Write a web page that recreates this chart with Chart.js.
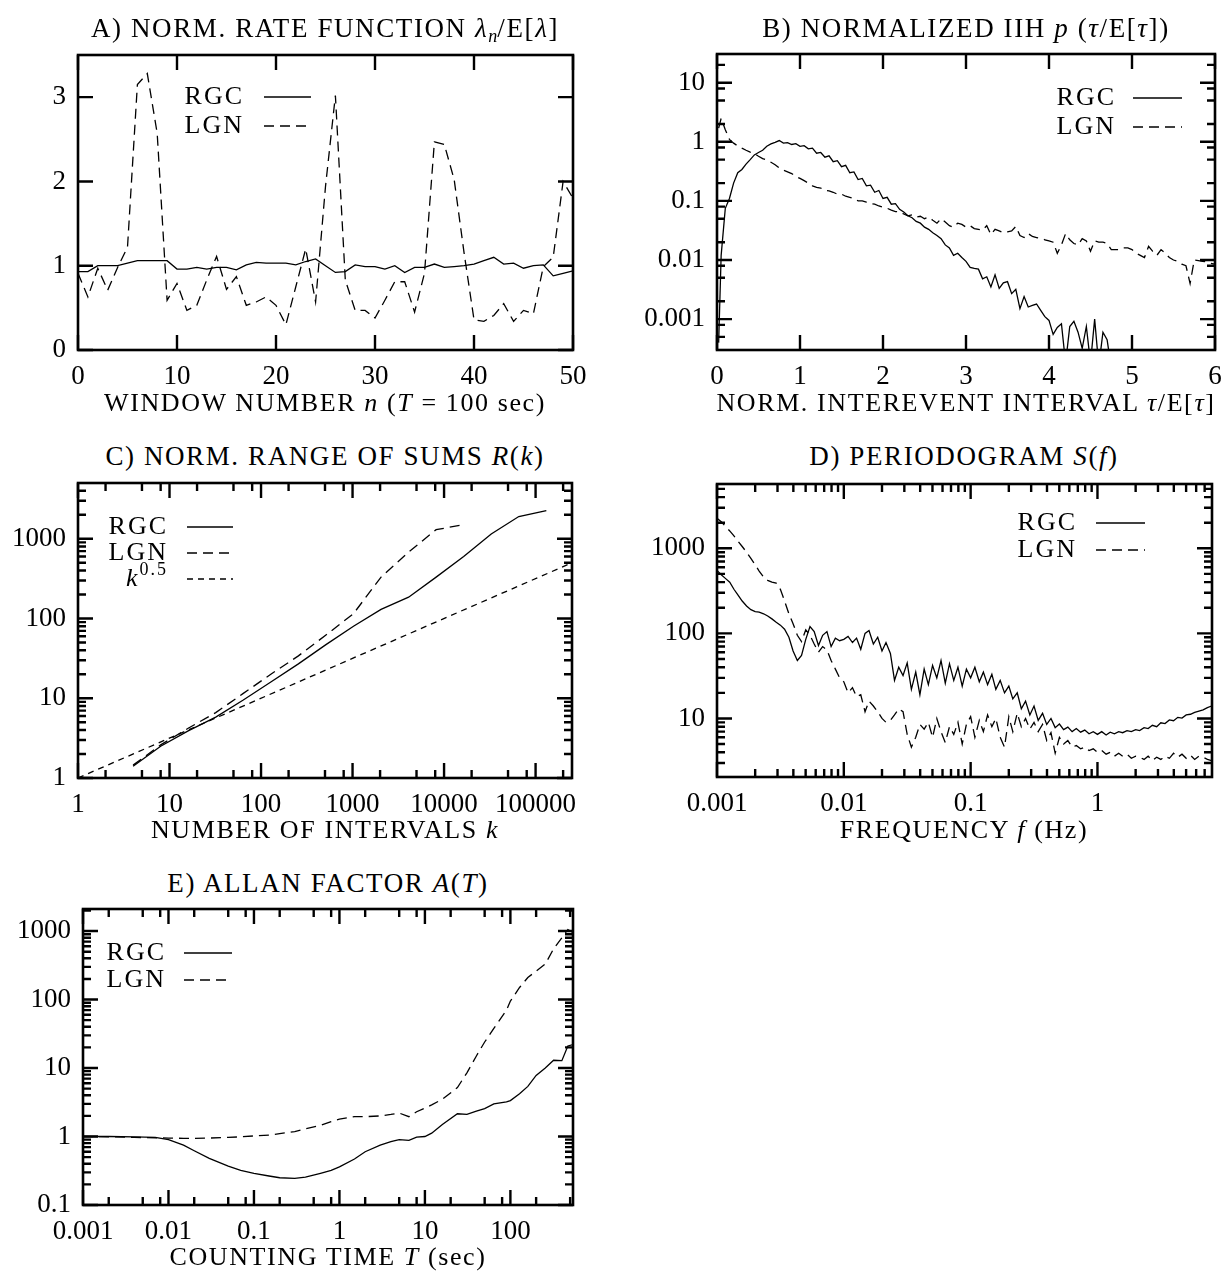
<!DOCTYPE html>
<html>
<head>
<meta charset="utf-8">
<script src="https://cdn.jsdelivr.net/npm/chart.js@4.4.1/dist/chart.umd.min.js"></script>
<style>
  body { margin: 0; background: #fff; }
  #page { position: relative; width: 1225px; height: 1274px; overflow: hidden; background: #fff;
          font-family: "Liberation Serif", serif; color: #000; }
  #page canvas { position: absolute; }
  .cap { position: absolute; font-size: 26px; letter-spacing: 1.6px; white-space: nowrap;
         transform: translate(-50%, -50%); line-height: 30px; }
  .cap.title { font-size: 27px; }
  .cap sub { font-size: 18px; vertical-align: -5px; line-height: 0; letter-spacing: 0; }
</style>
</head>
<body>
<div id="page">
  <canvas id="cA" width="610" height="345" style="left:0;top:45px"></canvas>
  <canvas id="cB" width="613" height="345" style="left:612px;top:45px"></canvas>
  <canvas id="cC" width="610" height="345" style="left:0;top:473px"></canvas>
  <canvas id="cD" width="613" height="345" style="left:612px;top:473px"></canvas>
  <canvas id="cE" width="610" height="345" style="left:0;top:899px"></canvas>

  <div class="cap title" style="left:325px;top:28px">A) NORM. RATE FUNCTION <i>λ<sub>n</sub></i>/E[<i>λ</i>]</div>
  <div class="cap title" style="left:966px;top:28px">B) NORMALIZED IIH <i>p</i> (<i>τ</i>/E[<i>τ</i>])</div>
  <div class="cap title" style="left:325px;top:456px">C) NORM. RANGE OF SUMS <i>R</i>(<i>k</i>)</div>
  <div class="cap title" style="left:964px;top:456px">D) PERIODOGRAM <i>S</i>(<i>f</i>)</div>
  <div class="cap title" style="left:328px;top:883px">E) ALLAN FACTOR <i>A</i>(<i>T</i>)</div>

  <div class="cap" style="left:325px;top:403px">WINDOW NUMBER <i>n</i> (<i>T</i> = 100 sec)</div>
  <div class="cap" style="left:966px;top:403px">NORM. INTEREVENT INTERVAL <i>τ</i>/E[<i>τ</i>]</div>
  <div class="cap" style="left:325px;top:830px">NUMBER OF INTERVALS <i>k</i></div>
  <div class="cap" style="left:964px;top:830px">FREQUENCY <i>f</i> (Hz)</div>
  <div class="cap" style="left:328px;top:1257px">COUNTING TIME <i>T</i> (sec)</div>
</div>

<script>
// A) rate per 100 s window, normalized by the mean rate
const aWindow = [0, 1, 2, 3, 4, 5, 6, 7, 8, 9, 10, 11, 12, 13, 14, 15, 16, 17, 18, 19,
  20, 21, 22, 23, 24, 25, 26, 27, 28, 29, 30, 31, 32, 33, 34, 35, 36, 37, 38, 39,
  40, 41, 42, 43, 44, 45, 46, 47, 48, 49, 50];
const aRgc = [0.93, 0.93, 1.0, 1.0, 1.0, 1.03, 1.06, 1.06, 1.06, 1.06,
  0.96, 0.96, 0.98, 0.96, 0.98, 0.98, 0.95, 1.01, 1.04, 1.03,
  1.03, 1.03, 1.01, 1.05, 1.08, 1.0, 0.92, 0.93, 1.01, 0.99,
  0.99, 0.96, 1.0, 0.92, 0.98, 0.98, 1.02, 0.98, 0.99, 1.0,
  1.02, 1.06, 1.1, 1.02, 1.03, 0.97, 1.0, 1.01, 0.88, 0.91, 0.94];
const aLgn = [0.91, 0.63, 0.97, 0.71, 0.98, 1.22, 3.15, 3.28, 2.57, 0.59,
  0.79, 0.47, 0.53, 0.83, 1.11, 0.72, 0.87, 0.53, 0.57, 0.63,
  0.53, 0.3, 0.75, 1.2, 0.57, 1.94, 3.02, 0.83, 0.47, 0.47,
  0.38, 0.59, 0.81, 0.81, 0.45, 0.91, 2.47, 2.44, 2.02, 1.15,
  0.36, 0.34, 0.41, 0.55, 0.34, 0.47, 0.43, 0.99, 1.1, 2.0, 1.8];
const aXTicks = [0, 10, 20, 30, 40, 50];
const aXLabels = ["0", "10", "20", "30", "40", "50"];
const aYTicks = [0, 1, 2, 3];
const aYLabels = ["0", "1", "2", "3"];

// B) interevent-interval histogram
const bTau = [0.02,
  0.05, 0.1, 0.15, 0.2, 0.25, 0.3, 0.35, 0.4, 0.45, 0.5,
  0.55, 0.6, 0.65, 0.7, 0.75, 0.8, 0.85, 0.9, 0.95, 1.0,
  1.05, 1.1, 1.15, 1.2, 1.25, 1.3, 1.35, 1.4, 1.45, 1.5,
  1.55, 1.6, 1.65, 1.7, 1.75, 1.8, 1.85, 1.9, 1.95, 2.0,
  2.05, 2.1, 2.15, 2.2, 2.25, 2.3, 2.35, 2.4, 2.45, 2.5,
  2.55, 2.6, 2.65, 2.7, 2.75, 2.8, 2.85, 2.9, 2.95, 3.0,
  3.05, 3.1, 3.15, 3.2, 3.25, 3.3, 3.35, 3.4, 3.45, 3.5,
  3.55, 3.6, 3.65, 3.7, 3.75, 3.8, 3.85, 3.9, 3.95, 4.0,
  4.05, 4.1, 4.15, 4.2, 4.25, 4.3, 4.35, 4.4, 4.45, 4.5,
  4.55, 4.6, 4.65, 4.7, 4.75, 4.8, 4.85, 4.9, 4.95, 5.0,
  5.05, 5.1, 5.15, 5.2, 5.25, 5.3, 5.35, 5.4, 5.45, 5.5,
  5.55, 5.6, 5.65, 5.7, 5.75, 5.8, 5.85, 5.9, 5.95, 6.0];
const bRgc = [0.0004,
  0.012, 0.075, 0.11, 0.2, 0.3, 0.34, 0.42, 0.5, 0.6, 0.66,
  0.72, 0.84, 0.92, 0.98, 1.05, 0.95, 0.97, 0.9, 0.93, 0.84,
  0.86, 0.76, 0.78, 0.64, 0.66, 0.55, 0.58, 0.46, 0.48, 0.38,
  0.40, 0.3, 0.31, 0.23, 0.24, 0.18, 0.185, 0.14, 0.15, 0.11,
  0.115, 0.088, 0.09, 0.072, 0.065, 0.056, 0.052, 0.045, 0.042, 0.036,
  0.033, 0.029, 0.026, 0.023, 0.018, 0.016, 0.012, 0.013, 0.011, 0.0095,
  0.0075, 0.0072, 0.007, 0.0048, 0.0052, 0.0035, 0.0056, 0.0033, 0.0041, 0.0043,
  0.0027, 0.0032, 0.0015, 0.0024, 0.0016, 0.0017, 0.0018, 0.0014, 0.0011, 0.00095,
  0.00055, 0.00072, 0.00083, 0.00018, 0.00075, 0.00092, 0.0006, 0.00032, 0.00075, 0.00018,
  0.001, 0.00016, 0.0006, 0.00045, 0.00015];
const bLgn = [1.7,
  2.5, 1.6, 1.1, 0.95, 0.85, 0.78, 0.72, 0.67, 0.63, 0.57,
  0.52, 0.49, 0.45, 0.41, 0.36, 0.33, 0.31, 0.29, 0.26, 0.24,
  0.22, 0.2, 0.18, 0.17, 0.165, 0.15, 0.148, 0.14, 0.13, 0.13,
  0.12, 0.115, 0.11, 0.1, 0.1, 0.095, 0.09, 0.088, 0.082, 0.078,
  0.075, 0.07, 0.066, 0.066, 0.06, 0.056, 0.058, 0.053, 0.055, 0.05,
  0.053, 0.047, 0.042, 0.05, 0.044, 0.038, 0.036, 0.042, 0.04, 0.036,
  0.038, 0.034, 0.033, 0.032, 0.038, 0.027, 0.033, 0.031, 0.029, 0.03,
  0.031, 0.037, 0.026, 0.024, 0.028, 0.025, 0.024, 0.023, 0.022, 0.021,
  0.02, 0.013, 0.018, 0.028, 0.022, 0.019, 0.018, 0.023, 0.021, 0.014,
  0.021, 0.02, 0.02, 0.019, 0.015, 0.015, 0.015, 0.016, 0.016, 0.015,
  0.013, 0.012, 0.011, 0.017, 0.014, 0.012, 0.015, 0.013, 0.011, 0.01,
  0.0095, 0.0085, 0.008, 0.004, 0.01, 0.0098, 0.0095, 0.0093, 0.0088, 0.0085];
const bXTicks = [0, 1, 2, 3, 4, 5, 6];
const bXLabels = ["0", "1", "2", "3", "4", "5", "6"];
const bYTicks = [0.001, 0.01, 0.1, 1, 10];
const bYLabels = ["0.001", "0.01", "0.1", "1", "10"];
const bYMinor = [0.0005, 0.0008, 0.002, 0.005, 0.008, 0.02, 0.05, 0.08, 0.2, 0.5, 0.8, 2, 5, 8, 20];

// C) range of sums
const cK = [4, 8, 16, 32, 64, 128, 256, 512, 1024, 2048, 4096, 8192, 16384, 32768, 65536, 131072];
const cRgc = [1.4, 2.5, 3.9, 5.8, 9.5, 16, 27, 47, 80, 130, 185, 330, 600, 1150, 1900, 2250];
const cLgn = [1.45, 2.6, 4.2, 6.6, 11.5, 20, 34, 62, 115, 330, 680, 1300, 1500];
const cRefK = [1, 250000];
const cRef = [1, 500];
const cXTicks = [1, 10, 100, 1000, 10000, 100000];
const cXLabels = ["1", "10", "100", "1000", "10000", "100000"];
const cXMinor = [2, 5, 8, 20, 50, 80, 200, 500, 800, 2000, 5000, 8000, 20000, 50000, 80000, 200000];
const cYTicks = [1, 10, 100, 1000];
const cYLabels = ["1", "10", "100", "1000"];
const cYMinor = [2, 3, 4, 5, 6, 7, 8, 9, 20, 30, 40, 50, 60, 70, 80, 90,
  200, 300, 400, 500, 600, 700, 800, 900, 2000, 3000, 4000];

// D) periodogram
const dFreq = [
  0.001, 0.00108, 0.00117, 0.00126, 0.00136, 0.00147, 0.00158, 0.00171, 0.00185, 0.002,
  0.00215, 0.00233, 0.00251, 0.00271, 0.00293, 0.00316, 0.00341, 0.00369, 0.00398, 0.0043,
  0.00464, 0.00501, 0.00541, 0.00584, 0.00631, 0.00681, 0.00736, 0.00794, 0.00858, 0.00926,
  0.01, 0.0108, 0.0117, 0.0126, 0.0136, 0.0147, 0.0158, 0.0171, 0.0185, 0.02,
  0.0215, 0.0233, 0.0251, 0.0271, 0.0293, 0.0316, 0.0341, 0.0369, 0.0398, 0.043,
  0.0464, 0.0501, 0.0541, 0.0584, 0.0631, 0.0681, 0.0736, 0.0794, 0.0858, 0.0926,
  0.1, 0.108, 0.117, 0.126, 0.136, 0.147, 0.158, 0.171, 0.185, 0.2,
  0.215, 0.233, 0.251, 0.271, 0.293, 0.316, 0.341, 0.369, 0.398, 0.43,
  0.464, 0.501, 0.541, 0.584, 0.631, 0.681, 0.736, 0.794, 0.858, 0.926,
  1, 1.08, 1.17, 1.26, 1.36, 1.47, 1.58, 1.71, 1.85, 2,
  2.15, 2.33, 2.51, 2.71, 2.93, 3.16, 3.41, 3.69, 3.98, 4.3,
  4.64, 5.01, 5.41, 5.84, 6.31, 6.81, 7.36, 7.94];
const dRgc = [
  550, 490, 440, 400, 330, 280, 240, 210, 190, 180,
  178, 170, 160, 148, 135, 125, 112, 90, 62, 48,
  55, 85, 120, 105, 72, 95, 105, 70, 88, 82,
  85, 92, 78, 88, 65, 100, 108, 75, 90, 62,
  78, 58, 28, 40, 32, 45, 22, 35, 19, 38,
  25, 42, 30, 48, 26, 44, 28, 40, 24, 38,
  30, 40, 27, 35, 25, 33, 22, 28, 20, 24,
  17, 20, 13, 16, 11, 14, 9.5, 11.5, 8.5, 10,
  7.8, 8.6, 7.4, 7.9, 7.0, 7.6, 6.9, 7.3, 6.6, 7.0,
  6.5, 7.0, 6.4, 6.9, 6.6, 7.0, 6.8, 7.2, 7.0, 7.4,
  7.2, 7.8, 7.6, 8.3, 8.0, 8.9, 8.7, 9.6, 9.4, 10.3,
  10.1, 11, 11.2, 11.8, 12.2, 12.6, 13.4, 14];
const dLgn = [
  2250, 2050, 1800, 1600, 1400, 1200, 1050, 900, 760, 640,
  540, 460, 420, 400, 390, 330, 240, 170, 130, 95,
  80, 110, 95, 75, 60, 70, 64, 48, 38, 30,
  27, 20, 23, 18, 19, 12, 16, 14, 12, 10,
  9, 9.5, 11, 13, 12, 6.5, 4.6, 6, 8.5, 7.5,
  9, 6, 10, 7, 5.2, 8, 6.5, 9, 5, 8.5,
  10.5, 6, 9.5, 7, 11, 8, 10, 6, 4.6, 10.5,
  7, 11.5, 8, 10, 7.5, 9, 7, 8.5, 5.5, 6.8,
  3.9, 6, 5, 5.5, 4.6, 4.8, 4.4, 4.6, 4.2, 4.4,
  4.0, 4.2, 3.8, 4.0, 3.6, 3.9, 3.6, 3.8, 3.4, 3.6,
  3.5, 3.3, 3.6, 3.2, 3.5, 3.3, 3.6, 3.4, 3.9, 3.5,
  3.8, 3.4, 3.7, 3.3, 3.6, 3.5, 3.3, 3.2];
const dXTicks = [0.001, 0.01, 0.1, 1];
const dXLabels = ["0.001", "0.01", "0.1", "1"];
const dXMinor = [0.002, 0.003, 0.004, 0.005, 0.006, 0.007, 0.008, 0.009,
  0.02, 0.03, 0.04, 0.05, 0.06, 0.07, 0.08, 0.09,
  0.2, 0.3, 0.4, 0.5, 0.6, 0.7, 0.8, 0.9, 2, 3, 4, 5, 6, 7];
const dYTicks = [10, 100, 1000];
const dYLabels = ["10", "100", "1000"];
const dYMinor = [3, 4, 5, 6, 7, 8, 9, 20, 30, 40, 50, 60, 70, 80, 90,
  200, 300, 400, 500, 600, 700, 800, 900, 2000, 3000, 4000, 5000];

// E) Allan factor
const eT = [0.001, 0.002, 0.004, 0.007, 0.01, 0.015, 0.02, 0.03, 0.05, 0.07,
  0.1, 0.15, 0.2, 0.3, 0.4, 0.6, 0.8, 1, 1.5, 2,
  3, 4, 5, 6.5, 8, 10, 12, 16, 24, 31,
  40, 50, 64, 90, 100, 128, 160, 200, 256, 320,
  400, 470, 540];
const eRgc = [1.0, 1.0, 0.99, 0.97, 0.9, 0.75, 0.62, 0.48, 0.37, 0.32,
  0.29, 0.265, 0.25, 0.245, 0.255, 0.29, 0.32, 0.36, 0.47, 0.6,
  0.75, 0.84, 0.9, 0.88, 0.98, 1.0, 1.12, 1.5, 2.15, 2.1,
  2.35, 2.55, 3.0, 3.2, 3.35, 4.2, 5.4, 7.8, 10, 13,
  12.8, 21, 22];
const eLgn = [1.0, 0.99, 0.97, 0.96, 0.95, 0.94, 0.94, 0.95, 0.97, 0.99,
  1.02, 1.05, 1.1, 1.18, 1.3, 1.45, 1.65, 1.8, 1.95, 1.95,
  2.0, 2.1, 2.2, 1.95, 2.3, 2.6, 2.9, 3.5, 5.2, 8.5,
  15, 24, 38, 70, 95, 150, 210, 260, 330, 550,
  800, 1050, 950];
const eXTicks = [0.001, 0.01, 0.1, 1, 10, 100];
const eXLabels = ["0.001", "0.01", "0.1", "1", "10", "100"];
const eXMinor = [0.002, 0.005, 0.008, 0.02, 0.05, 0.08, 0.2, 0.5, 0.8, 2, 5, 8, 20, 50, 80, 200, 500];
const eYTicks = [0.1, 1, 10, 100, 1000];
const eYLabels = ["0.1", "1", "10", "100", "1000"];
const eYMinor = [0.2, 0.3, 0.4, 0.5, 0.6, 0.7, 0.8, 0.9, 2, 3, 4, 5, 6, 7, 8, 9,
  20, 30, 40, 50, 60, 70, 80, 90, 200, 300, 400, 500, 600, 700, 800, 900, 2000];

const SERIF = '"Liberation Serif", serif';
const DASH_LGN = [10, 6];
const DASH_REF = [6, 5];

function pts(xs, ys) {
  return ys.map((y, i) => ({ x: xs[i], y: y }));
}

// box with inward ticks on all four sides
const framePlugin = {
  id: "frame",
  afterDatasetsDraw(chart, args, o) {
    const { ctx, chartArea: a } = chart;
    const sx = chart.scales.x, sy = chart.scales.y;
    ctx.save();
    ctx.strokeStyle = "#000";
    ctx.setLineDash([]);
    ctx.lineWidth = 2.4;
    ctx.beginPath();
    const mark = (vals, len, horiz) => {
      (vals || []).forEach(v => {
        if (horiz) {
          const p = sx.getPixelForValue(v);
          if (p < a.left - 0.5 || p > a.right + 0.5) return;
          ctx.moveTo(p, a.bottom); ctx.lineTo(p, a.bottom - len);
          ctx.moveTo(p, a.top); ctx.lineTo(p, a.top + len);
        } else {
          const p = sy.getPixelForValue(v);
          if (p < a.top - 0.5 || p > a.bottom + 0.5) return;
          ctx.moveTo(a.left, p); ctx.lineTo(a.left + len, p);
          ctx.moveTo(a.right, p); ctx.lineTo(a.right - len, p);
        }
      });
    };
    mark(o.xMajor, 15, true);
    mark(o.xMinor, 8, true);
    mark(o.yMajor, 15, false);
    mark(o.yMinor, 8, false);
    ctx.stroke();
    ctx.lineWidth = 2.6;
    ctx.strokeRect(a.left, a.top, a.right - a.left, a.bottom - a.top);
    ctx.restore();
  }
};

// key: label text right-aligned, line sample to its right
const keyPlugin = {
  id: "key",
  afterDatasetsDraw(chart, args, o) {
    const { ctx, chartArea: a } = chart;
    ctx.save();
    ctx.fillStyle = "#000";
    ctx.strokeStyle = "#000";
    ctx.textBaseline = "middle";
    ctx.letterSpacing = "2px";
    chart.data.datasets.forEach((ds, i) => {
      const y = a.top + o.top + i * o.step;
      const parts = ds.keyParts || [{ t: ds.label }];
      const fontOf = p => (p.it ? "italic " : "") + (p.sup ? 18 : 26) + "px " + SERIF;
      let w = 0;
      parts.forEach(p => { ctx.font = fontOf(p); w += ctx.measureText(p.t).width; });
      let x = a.left + o.right - w;
      parts.forEach(p => {
        ctx.font = fontOf(p);
        ctx.fillText(p.t, x, p.sup ? y - 9 : y);
        x += ctx.measureText(p.t).width;
      });
      ctx.setLineDash(ds.borderDash || []);
      ctx.lineWidth = ds.borderWidth;
      ctx.beginPath();
      ctx.moveTo(a.left + o.from, y);
      ctx.lineTo(a.left + o.from + o.len, y);
      ctx.stroke();
    });
    ctx.restore();
  }
};

function axis(s, dir) {
  return {
    type: s.log ? "logarithmic" : "linear",
    min: s.min,
    max: s.max,
    grid: { display: false, drawTicks: false },
    border: { display: false },
    afterBuildTicks: sc => { sc.ticks = s.ticks.map(v => ({ value: v })); },
    afterFit: sc => {
      // the box is sized by the page layout, not by label overhang
      if (dir === "x") sc.height = s.size; else sc.width = s.size;
      sc.paddingTop = 0; sc.paddingBottom = 0;
      sc.paddingLeft = 0; sc.paddingRight = 0;
    },
    ticks: {
      color: "#000",
      font: { family: SERIF, size: 27 },
      padding: dir === "x" ? 11 : 12,
      maxRotation: 0,
      autoSkip: false,
      callback: (v, i) => s.labels[i]
    }
  };
}

function line(label, data, dash, keyParts) {
  return {
    label: label,
    keyParts: keyParts,
    data: data,
    borderColor: "#000",
    borderWidth: 1.3,
    borderDash: dash,
    pointRadius: 0,
    fill: false,
    tension: 0
  };
}

function makePanel(id, p) {
  return new Chart(document.getElementById(id).getContext("2d"), {
    type: "line",
    data: { datasets: p.datasets },
    options: {
      responsive: false,
      animation: false,
      events: [],
      layout: { padding: p.padding },
      plugins: {
        legend: { display: false },
        tooltip: { enabled: false },
        frame: { xMajor: p.x.ticks, xMinor: p.x.minor, yMajor: p.y.ticks, yMinor: p.y.minor },
        key: p.key
      },
      scales: { x: axis(p.x, "x"), y: axis(p.y, "y") }
    },
    plugins: [framePlugin, keyPlugin]
  });
}

makePanel("cA", {
  padding: { left: 0, top: 10, right: 37, bottom: 0 },
  x: { min: 0, max: 50, ticks: aXTicks, labels: aXLabels, size: 40 },
  y: { min: 0, max: 3.5, ticks: aYTicks, labels: aYLabels, size: 78 },
  key: { right: 166, top: 42, step: 29, from: 186, len: 47 },
  datasets: [
    line("RGC", pts(aWindow, aRgc), []),
    line("LGN", pts(aWindow, aLgn), DASH_LGN)
  ]
});

makePanel("cB", {
  padding: { left: 0, top: 9, right: 10, bottom: 0 },
  x: { min: 0, max: 6, ticks: bXTicks, labels: bXLabels, size: 40 },
  y: { log: true, min: 0.0003, max: 30.6, ticks: bYTicks, labels: bYLabels, minor: bYMinor, size: 105 },
  key: { right: 399, top: 44, step: 29, from: 416, len: 49 },
  datasets: [
    line("RGC", pts(bTau, bRgc), []),
    line("LGN", pts(bTau, bLgn), DASH_LGN)
  ]
});

makePanel("cC", {
  padding: { left: 0, top: 10, right: 38, bottom: 0 },
  x: { log: true, min: 1, max: 250000, ticks: cXTicks, labels: cXLabels, minor: cXMinor, size: 40 },
  y: { log: true, min: 1, max: 5000, ticks: cYTicks, labels: cYLabels, minor: cYMinor, size: 78 },
  key: { right: 90, top: 44, step: 26, from: 109, len: 46 },
  datasets: [
    line("RGC", pts(cK, cRgc), []),
    line("LGN", pts(cK, cLgn), DASH_LGN),
    line("k^0.5", pts(cRefK, cRef), DASH_REF, [{ t: "k", it: true }, { t: "0.5", sup: true }])
  ]
});

makePanel("cD", {
  padding: { left: 0, top: 11, right: 13, bottom: 0 },
  x: { log: true, min: 0.001, max: 8, ticks: dXTicks, labels: dXLabels, minor: dXMinor, size: 41 },
  y: { log: true, min: 2.05, max: 5700, ticks: dYTicks, labels: dYLabels, minor: dYMinor, size: 105 },
  key: { right: 360, top: 39, step: 27, from: 379, len: 49 },
  datasets: [
    line("RGC", pts(dFreq, dRgc), []),
    line("LGN", pts(dFreq, dLgn), DASH_LGN)
  ]
});

makePanel("cE", {
  padding: { left: 0, top: 10, right: 37, bottom: 0 },
  x: { log: true, min: 0.001, max: 540, ticks: eXTicks, labels: eXLabels, minor: eXMinor, size: 39 },
  y: { log: true, min: 0.1, max: 2100, ticks: eYTicks, labels: eYLabels, minor: eYMinor, size: 83 },
  key: { right: 83, top: 44, step: 27, from: 101, len: 48 },
  datasets: [
    line("RGC", pts(eT, eRgc), []),
    line("LGN", pts(eT, eLgn), DASH_LGN)
  ]
});
</script>
</body>
</html>
